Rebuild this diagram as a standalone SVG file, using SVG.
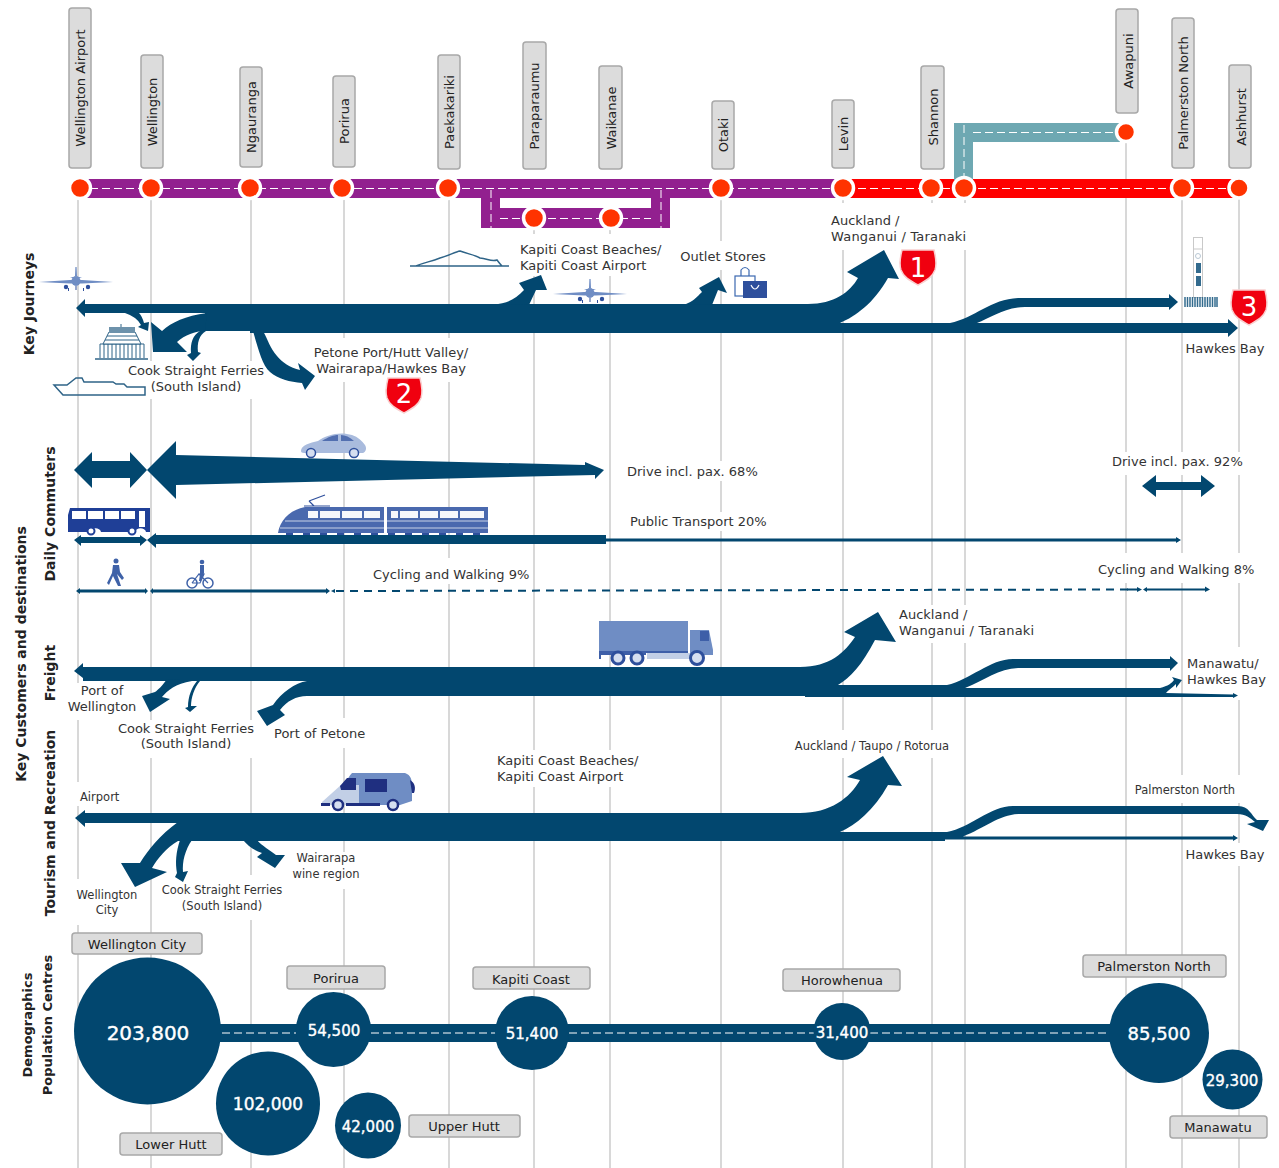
<svg xmlns="http://www.w3.org/2000/svg" xmlns:xlink="http://www.w3.org/1999/xlink" width="1279" height="1168" viewBox="0 0 1279 1168">
<style>
text{font-family:"DejaVu Sans","Liberation Sans",sans-serif;font-size:13px;fill:#333}
.s{font-size:11.5px}
.m{text-anchor:middle}
.w{letter-spacing:.2px}
.h{font-weight:bold;font-size:14px;fill:#222;text-anchor:middle}
.h2{font-size:13px}
.chip{fill:#dcdcdc;stroke:#a8a8a8;stroke-width:1.5}
.ct{fill:#222;text-anchor:middle;font-size:13px}
.vl{stroke:#cfcfcf;stroke-width:1.6;fill:none}
.mask{fill:#fff}
.flow{fill:#02476f}
.dash{stroke:#fff;stroke-width:1;stroke-dasharray:8 4;fill:none}
.stop{fill:#ff3300;stroke:#fff;stroke-width:3.5}
.pop{fill:#02476f}
.pt{fill:#fff;stroke:#fff;stroke-width:.4;text-anchor:middle}
.shield{fill:#f0000f;stroke:#f9cfcf;stroke-width:1.5}
.sn{fill:#fff;font-size:26px;text-anchor:middle}
.ic{fill:#6f8dc4}
.id{fill:#2e4f9c}
.il{fill:#a9bbdd}
.io{fill:none;stroke:#2f6488;stroke-width:1.5}
</style>
<defs>
<g id="plane">
<path class="ic" d="M-37,0 L-6,-2 L6,-2 L37,0 L6,1.5 L-6,1.5 Z"/>
<path class="ic" d="M-0.6,-15 L0.6,-15 L1,-6 L-1,-6 Z M-6,-5 L6,-5 L2,-3.5 L-2,-3.5Z"/>
<ellipse class="ic" cx="0" cy="-1" rx="4.5" ry="5"/>
<circle class="id" cx="-10" cy="5" r="2.2"/><circle class="id" cx="12" cy="5" r="2.2"/>
<path class="id" d="M-0.5,4h1v4h-1z M-8,6h1v3h-1z M7,6h1v3h-1z"/>
</g>
<path id="shieldp" d="M2,0 H34 C36,8 37,14 35,20 C32,28 25,31 18,35 C11,31 4,28 1,20 C-1,14 0,8 2,0Z"/>
</defs>

<g id="guide-lines">
<path class="vl" d="M78,198V1168M151,198V1168M251,198V1168M344,198V1168M449,198V1168M534,228V1168M610,228V1168M721,198V1168M843,198V1168M932,198V1168M965,198V1168M1126,132V1168M1182,198V1168M1239,198V1168"/>
<g class="mask">
<rect x="828" y="203" width="142" height="47"/>
<rect x="518" y="234" width="150" height="42"/>
<rect x="678" y="241" width="90" height="29"/>
<rect x="128" y="361" width="140" height="38"/>
<rect x="309" y="338" width="164" height="44"/>
<rect x="622" y="461" width="138" height="20"/>
<rect x="626" y="512" width="146" height="19"/>
<rect x="368" y="558" width="165" height="26"/>
<rect x="1108" y="452" width="136" height="23"/>
<rect x="1095" y="553" width="160" height="30"/>
<rect x="895" y="605" width="143" height="38"/>
<rect x="1185" y="647" width="82" height="53"/>
<rect x="66" y="683" width="72" height="37"/>
<rect x="115" y="720" width="143" height="38"/>
<rect x="272" y="718" width="96" height="30"/>
<rect x="76" y="782" width="44" height="24"/>
<rect x="794" y="730" width="156" height="28"/>
<rect x="495" y="750" width="146" height="37"/>
<rect x="1133" y="775" width="108" height="28"/>
<rect x="1185" y="843" width="80" height="23"/>
<rect x="70" y="879" width="70" height="46"/>
<rect x="163" y="875" width="118" height="45"/>
<rect x="290" y="852" width="72" height="37"/>
</g>
</g>

<g id="route-network">
<path fill="#92208f" d="M85,179H843V198H670V228H481V198H85Z"/>
<rect x="500" y="198" width="151" height="10" fill="#fff"/>
<rect x="843" y="179" width="392" height="19" fill="#ff0000"/>
<path fill="#6ea8b2" d="M954,180V123H1120V142H973V180Z"/>
<path class="dash" d="M90,188.500H1235M491,190V228M661,190V228M500,218.500H651M964,125V178M973,132.500H1118"/>
</g>

<g id="connectors">
<g id="journeys-flows">
<path class="flow" d="M76,308L85,299V304H808C834,304 850,292 858,278L847,272L884,250L899,279L888,278C874,303 856,316 840,323H950C975,318 992,298 1020,298H1169V294L1178,302L1169,310V307H1025C1005,307 990,318 977,323H1228V319L1238,328L1228,337V333H250V331H205V313H300V313H85V317Z"/>
<path class="flow" d="M207,313C185,316 172,322 162,331L151,322L153,352H187L177,342C185,335 195,331 205,331Z"/>
<path class="flow" d="M125,313H139Q142,316 144,323L149,322L148,331L138,327L141,325Q137,317 125,313Z"/>
<path class="flow" d="M206,331C199,335 197,343 198,352L201,353L193,361L187,355L191,353C190,343 193,335 200,331Z"/>
<path class="flow" d="M253,331C258,348 262,365 270,372C278,379 290,382 302,383L305,390L315,376L298,363L300,370C290,368 282,362 277,356C270,348 268,340 263,331Z"/>
<path class="flow" d="M494,304C505,304 515,300 524,290L519,283L541,275L547,290L536,290L529,305Z"/>
<path class="flow" d="M686,304C692,302 697,297 702,292L699,288L719,277L727,293L718,290L712,305Z"/>
</g>
<g id="commuter-flows">
<path class="flow" d="M74,470L92,452V461H130V452L147,470L130,488V478H92V488Z"/>
<path class="flow" d="M147,470L176,441V455L585,465V462L604,470L595,479V475L176,485V499Z"/>
<path class="flow" d="M74,540L81,535V537H140V535L147,540L140,546V543H81V546Z"/>
<path class="flow" d="M147,540L156,533V535H606V544H156V548Z"/>
<path class="flow" d="M606,538.500H1176V537L1181,540L1176,543V541.500H606Z"/>
<path class="flow" d="M1142,486L1156,475V482H1201V475L1215,486L1201,497V490H1156V497Z"/>
<path class="flow" d="M76,591L80,588V589.500H145V588L148,591L145,594V592.500H80V594Z"/>
<path class="flow" d="M150,591L153,588V589.500H326V588L330,591L326,594V592.500H153V594Z"/>
<path class="flow" d="M331,591L335,589V593Z"/>
<path d="M336,591L1130,589.500" fill="none" stroke="#02476f" stroke-width="2" stroke-dasharray="8 6"/>
<path class="flow" d="M1127,588.500H1137V587L1142,589.500L1137,592V590.500H1127Z"/>
<path class="flow" d="M1143,589.500L1147,587V588.500H1205V586.500L1210,589.500L1205,592V590.500H1147V592Z"/>
</g>
<g id="freight-flows">
<path class="flow" d="M74,671L83,663V667H800C830,667 845,652 855,637L844,632L878,612L896,642L875,640C862,665 850,678 838,685H947C970,680 990,659 1013,659H1170V656L1178,663L1170,671V668H1020C1000,668 985,680 965,688H1160C1168,686 1172,683 1174,680L1172,677L1182,680L1176,688L1176,684C1172,688 1168,690 1166,693L1233,694.500V693L1238,695.500L1233,698V697H805V696H307V681H83V678Z"/>
<path class="flow" d="M167,679C162,686 158,690 155,692L142,696L150,712L170,699L162,697C168,690 175,684 192,681Z"/>
<path class="flow" d="M200,681C194,688 191,698 191,706L197,706L190,712L185,708L188,707C188,696 192,687 197,681Z"/>
<path class="flow" d="M307,681C295,683 282,692 273,705L257,711L267,726L285,715L280,710C287,701 296,696 307,696Z"/>
</g>
<g id="tourism-flows">
<path class="flow" d="M75,818L85,810V813H800C830,813 850,798 860,780L847,777L883,756L902,786L888,785C874,810 856,825 840,832H947C970,828 990,806 1013,806H1238C1249,806 1251,815 1257,820L1269,820L1263,831L1247,824L1255,822C1250,818 1246,814 1237,814H1020C1000,814 985,828 963,836.500H1233V835L1238,838L1233,841V839.500H945V841H178V823H85V827Z"/>
<path class="flow" d="M178,822C160,835 148,850 140,863L121,863L135,887L167,872L152,868C158,858 166,848 178,841Z"/>
<path class="flow" d="M180,840C176,852 175,863 177,873L175,877L183,882L188,871L183,872C182,862 185,850 192,840Z"/>
<path class="flow" d="M243,840C248,846 255,851 262,853L257,857L275,868L285,855L276,855C270,850 262,846 257,840Z"/>
</g>
<g id="population-band">
<rect class="flow" x="148" y="1024" width="1011" height="18"/>
<path class="dash" d="M222,1033H296M371,1033H496M569,1033H814M870,1033H1109"/>
</g>
</g>

<g id="label-wellington-airport"><rect class="chip" x="69" y="8" width="22" height="160" rx="3"/><text class="ct" transform="translate(85,88) rotate(-90)">Wellington Airport</text></g>
<g id="label-wellington"><rect class="chip" x="141" y="55" width="22" height="113" rx="3"/><text class="ct" transform="translate(157,112) rotate(-90)">Wellington</text></g>
<g id="label-ngauranga"><rect class="chip" x="240" y="67" width="22" height="100" rx="3"/><text class="ct" transform="translate(256,117) rotate(-90)">Ngauranga</text></g>
<g id="label-porirua"><rect class="chip" x="333" y="76" width="22" height="91" rx="3"/><text class="ct" transform="translate(349,121) rotate(-90)">Porirua</text></g>
<g id="label-paekakariki"><rect class="chip" x="438" y="55" width="22" height="114" rx="3"/><text class="ct" transform="translate(454,112) rotate(-90)">Paekakariki</text></g>
<g id="label-paraparaumu"><rect class="chip" x="523" y="42" width="23" height="127" rx="3"/><text class="ct" transform="translate(539,106) rotate(-90)">Paraparaumu</text></g>
<g id="label-waikanae"><rect class="chip" x="599" y="66" width="23" height="103" rx="3"/><text class="ct" transform="translate(616,118) rotate(-90)">Waikanae</text></g>
<g id="label-otaki"><rect class="chip" x="712" y="101" width="22" height="68" rx="3"/><text class="ct" transform="translate(728,135) rotate(-90)">Otaki</text></g>
<g id="label-levin"><rect class="chip" x="832" y="100" width="22" height="68" rx="3"/><text class="ct" transform="translate(848,134) rotate(-90)">Levin</text></g>
<g id="label-shannon"><rect class="chip" x="921" y="66" width="23" height="103" rx="3"/><text class="ct" transform="translate(938,117) rotate(-90)">Shannon</text></g>
<g id="label-awapuni"><rect class="chip" x="1116" y="9" width="22" height="104" rx="3"/><text class="ct" transform="translate(1133,61) rotate(-90)">Awapuni</text></g>
<g id="label-palmerston"><rect class="chip" x="1172" y="18" width="22" height="150" rx="3"/><text class="ct" transform="translate(1188,93) rotate(-90)">Palmerston North</text></g>
<g id="label-ashhurst"><rect class="chip" x="1229" y="65" width="22" height="103" rx="3"/><text class="ct" transform="translate(1246,117) rotate(-90)">Ashhurst</text></g>

<g id="stops">
<circle class="stop" cx="80" cy="188" r="10.500"/><circle class="stop" cx="151" cy="188" r="10.500"/><circle class="stop" cx="250" cy="188" r="10.500"/><circle class="stop" cx="342" cy="188" r="10.500"/><circle class="stop" cx="448" cy="188" r="10.500"/><circle class="stop" cx="534" cy="218" r="10.500"/><circle class="stop" cx="611" cy="218" r="10.500"/><circle class="stop" cx="721" cy="188" r="10.500"/><circle class="stop" cx="843" cy="188" r="10.500"/><circle class="stop" cx="931" cy="188" r="10.500"/><circle class="stop" cx="964" cy="188" r="10.500"/><circle class="stop" cx="1126" cy="132" r="9.500"/><circle class="stop" cx="1182" cy="188" r="10.500"/><circle class="stop" cx="1239" cy="188" r="10"/>
</g>

<g id="section-titles">
<text class="h" transform="translate(34,304) rotate(-90)">Key Journeys</text>
<text class="h" transform="translate(55,514) rotate(-90)">Daily Commuters</text>
<text class="h" transform="translate(26,654) rotate(-90)">Key Customers and destinations</text>
<text class="h" transform="translate(55,673) rotate(-90)">Freight</text>
<text class="h" transform="translate(55,823) rotate(-90)">Tourism and Recreation</text>
<text class="h h2" transform="translate(32,1025) rotate(-90)">Demographics</text>
<text class="h h2" transform="translate(52,1025) rotate(-90)">Population Centres</text>
</g>

<g id="flow-labels">
<text x="831" y="225">Auckland /</text><text class="w" x="831" y="241">Wanganui / Taranaki</text>
<text x="520" y="254">Kapiti Coast Beaches/</text><text x="520" y="270">Kapiti Coast Airport</text>
<text class="m" x="723" y="261">Outlet Stores</text>
<text class="m" x="391" y="357">Petone Port/Hutt Valley/</text><text class="m" x="391" y="373">Wairarapa/Hawkes Bay</text>
<text class="m" x="196" y="375">Cook Straight Ferries</text><text class="m" x="196" y="391">(South Island)</text>
<text class="m" x="1225" y="353">Hawkes Bay</text>
<text x="627" y="476">Drive incl. pax. 68%</text>
<text x="630" y="526">Public Transport 20%</text>
<text x="373" y="579">Cycling and Walking 9%</text>
<text x="1112" y="466">Drive incl. pax. 92%</text>
<text x="1098" y="574">Cycling and Walking 8%</text>
<text x="899" y="619">Auckland /</text><text class="w" x="899" y="635">Wanganui / Taranaki</text>
<text x="1187" y="668">Manawatu/</text><text x="1187" y="684">Hawkes Bay</text>
<text class="m" x="102" y="695">Port of</text><text class="m" x="102" y="711">Wellington</text>
<text class="m" x="186" y="733">Cook Straight Ferries</text><text class="m" x="186" y="748">(South Island)</text>
<text x="274" y="738">Port of Petone</text>
<text class="s m" x="872" y="750">Auckland / Taupo / Rotorua</text>
<text x="497" y="765">Kapiti Coast Beaches/</text><text x="497" y="781">Kapiti Coast Airport</text>
<text class="s" x="80" y="801">Airport</text>
<text class="s m" x="1185" y="794">Palmerston North</text>
<text class="m" x="1225" y="859">Hawkes Bay</text>
<text class="s m" x="326" y="862">Wairarapa</text><text class="s m" x="326" y="878">wine region</text>
<text class="s m" x="107" y="899">Wellington</text><text class="s m" x="107" y="914">City</text>
<text class="s m" x="222" y="894">Cook Straight Ferries</text><text class="s m" x="222" y="910">(South Island)</text>
</g>

<g id="badges">
<g id="badge-1" transform="translate(900,250)"><use href="#shieldp" class="shield"/><text class="sn" x="18" y="27">1</text></g>
<g id="badge-2" transform="translate(386,378)"><use href="#shieldp" class="shield"/><text class="sn" x="18" y="25">2</text></g>
<g id="badge-3" transform="translate(1231,290)"><use href="#shieldp" class="shield"/><text class="sn" x="18" y="26">3</text></g>
</g>

<g id="icons">
<use href="#plane" x="76" y="282"/>
<use href="#plane" x="590" y="294"/>
<g id="icon-beehive">
<path class="io" d="M95,359H148" stroke-width="1"/>
<path d="M100,358V344H144V358M104,344V358M108,344V358M112,344V358M116,344V358M120,344V358M124,344V358M128,344V358M132,344V358M136,344V358M140,344V358" fill="none" stroke="#2f6488" stroke-width="1"/>
<path d="M103,344L109,332H135L141,344Z" fill="#fff" stroke="#2f6488" stroke-width="1"/>
<path d="M105,340H139M107,336H137" stroke="#2f6488" stroke-width="1"/>
<rect x="109" y="327" width="26" height="6" fill="#6d92ab"/><path d="M121,324V327" stroke="#2f6488"/>
</g>
<path id="icon-ferry" class="io" d="M54,385H67L76,378H82L84,382H113L116,384H124L127,387H145V395H63Z"/>
<path id="icon-mountain" class="io" d="M410,266H509M416,266C425,262 430,262 440,258C448,256 455,252 460,251C468,254 475,255 480,258C488,259 492,262 497,260C500,264 500,264 502,266" stroke-width="1"/>
<g id="icon-bag">
<rect x="735" y="276" width="20" height="20" fill="none" stroke="#3b68b0" stroke-width="1.200"/>
<path d="M741,276V270Q745,265 749,270V276" fill="none" stroke="#3b68b0" stroke-width="1.200"/>
<rect x="743" y="281" width="24" height="17" fill="#2e4f9c"/>
<path d="M751,285Q755,293 759,285" fill="none" stroke="#fff" stroke-width="1.200"/>
</g>
<g id="icon-tower">
<rect x="1193.500" y="237.500" width="9" height="60" fill="#fff" stroke="#c9c9c9"/>
<path d="M1193.500,249H1202.500" stroke="#c9c9c9"/>
<rect x="1196" y="263" width="5" height="10" fill="#336b8e"/>
<rect x="1196" y="276" width="5" height="10" fill="#336b8e"/>
<circle cx="1198" cy="256" r="2.500" fill="#fff" stroke="#b9c8d4"/>
<path d="M1185,297V307M1187.500,297V307M1190,297V307M1192.500,297V307M1195,297V307M1197.500,297V307M1200,297V307M1202.500,297V307M1205,297V307M1207.500,297V307M1210,297V307M1212.500,297V307M1215,297V307M1217,297V307" stroke="#336b8e" stroke-width="1.500"/>
</g>
<g id="icon-car">
<path class="il" d="M301,451C301,445 310,443 318,441C326,435 340,431 352,435C358,437 362,441 365,445C367,448 366,452 363,453H304C302,453 301,452 301,451Z"/>
<path class="id" opacity=".7" d="M322,441C328,437 334,435 338,435V441ZM341,435C345,435 350,437 354,441H341Z"/>
<circle cx="311" cy="453" r="4.500" fill="#d5def0" stroke="#2e4f9c" stroke-width="1.500"/>
<circle cx="354" cy="453" r="4.500" fill="#d5def0" stroke="#2e4f9c" stroke-width="1.500"/>
</g>
<g id="icon-bus">
<path fill="#1f3f97" d="M70,508H150V532H146C145,527 136,527 135,532H101C100,527 91,527 90,532H68V515Z"/>
<path fill="#fff" d="M72,511H86V519H72ZM88,511H103V519H88ZM105,511H119V519H105ZM121,511H135V519H121ZM139,511H145V527H139Z"/>
<circle cx="91" cy="531" r="3.500" fill="#fff" stroke="#1f3f97" stroke-width="2"/>
<circle cx="132" cy="531" r="3.500" fill="#fff" stroke="#1f3f97" stroke-width="2"/>
</g>
<g id="icon-train">
<path fill="#4a69ae" d="M278,533C280,520 290,510 305,507H384V533ZM387,507H488V533H387Z"/>
<path fill="#fff" d="M308,511H318V518H308ZM320,511H340V518H320ZM342,511H362V518H342ZM364,511H380V518H364ZM391,511H398V518H391ZM400,511H418V518H400ZM420,511H438V518H420ZM440,511H458V518H440ZM460,511H484V518H460Z" opacity=".95"/>
<path d="M285,521H384M387,521H488M280,528H384M387,528H488" stroke="#fff" stroke-width="1" fill="none" opacity=".7"/>
<path d="M309,501L325,495M309,501L314,506M304,506H330" stroke="#2e4f9c" stroke-width="1.200" fill="none"/>
<path d="M286,534H488" stroke="#2e4f9c" stroke-width="2" stroke-dasharray="7 10"/>
</g>
<g id="icon-walker" fill="#3f62a8">
<circle cx="116" cy="561" r="2.500"/>
<path d="M113,565H119L120,572L124,578L122,580L117,574L121,586H118L113,576L109,585L107,583L112,573Z"/>
</g>
<g id="icon-cyclist">
<circle cx="192" cy="583" r="5" fill="none" stroke="#3f62a8" stroke-width="1.500"/>
<circle cx="208" cy="583" r="5" fill="none" stroke="#3f62a8" stroke-width="1.500"/>
<path d="M192,583L199,574L208,583M199,574H204L200,583H192" fill="none" stroke="#3f62a8" stroke-width="1.200"/>
<circle cx="202" cy="562" r="2.300" fill="#3f62a8"/>
<path d="M200,565H204L204,573L201,581H199L200,574Z" fill="#3f62a8"/>
</g>
<g id="icon-truck">
<rect x="599" y="621" width="89" height="31" fill="#6f8dc4"/>
<path fill="#3e5fa8" d="M599,651H688V653H646V655H601V659H599Z"/>
<rect x="647" y="653" width="43" height="6" fill="#c2cfe6"/>
<path fill="#6f8dc4" d="M690,630H709L713,650V655H690Z"/>
<rect x="700" y="631" width="9" height="10" fill="#3e5fa8"/>
<circle cx="618" cy="658" r="6" fill="#d5def0" stroke="#2e4f9c" stroke-width="3"/>
<circle cx="637" cy="658" r="6" fill="#d5def0" stroke="#2e4f9c" stroke-width="3"/>
<circle cx="697" cy="658" r="6.500" fill="#d5def0" stroke="#2e4f9c" stroke-width="3"/>
</g>
<g id="icon-camper">
<path fill="#6f8dc4" d="M342,788C347,780 350,775 352,773H405C411,775 412,780 412,786V801L400,805H352V800Z"/>
<path fill="#c2cfe6" d="M322,802L341,785H359V805H322Z"/>
<path fill="#1f2f80" d="M340,786L347,778H356V790H341ZM365,779H387V792H365ZM410,780C415,783 416,788 414,793H412Z"/>
<path fill="#1f2f80" d="M321,803H330V806H321ZM346,803H380V806H346Z"/>
<circle cx="338" cy="805" r="5" fill="#d5def0" stroke="#1f2f80" stroke-width="2.500"/>
<circle cx="393" cy="805" r="5" fill="#d5def0" stroke="#1f2f80" stroke-width="2.500"/>
</g>
</g>

<g id="demographics">
<g id="pop-wellington-city"><rect class="chip" x="72" y="933" width="130" height="21" rx="3"/><text class="ct" x="137" y="949">Wellington City</text><circle class="pop" cx="147.500" cy="1031" r="73.500"/><text class="pt" x="148" y="1040" style="font-size:20px">203,800</text></g>
<g id="pop-lower-hutt"><rect class="chip" x="120" y="1133" width="102" height="22" rx="3"/><text class="ct" x="171" y="1149">Lower Hutt</text><circle class="pop" cx="268" cy="1103.500" r="52"/><text class="pt" x="268" y="1110" style="font-size:17px">102,000</text></g>
<g id="pop-porirua"><rect class="chip" x="287" y="966" width="98" height="23" rx="3"/><text class="ct" x="336" y="983">Porirua</text><circle class="pop" cx="333.500" cy="1029.500" r="37.500"/><text class="pt" x="334" y="1036" style="font-size:15px">54,500</text></g>
<g id="pop-upper-hutt"><rect class="chip" x="409" y="1115" width="111" height="22" rx="3"/><text class="ct" x="464" y="1131">Upper Hutt</text><circle class="pop" cx="368" cy="1125.500" r="33"/><text class="pt" x="368" y="1132" style="font-size:15px">42,000</text></g>
<g id="pop-kapiti"><rect class="chip" x="473" y="967" width="117" height="22" rx="3"/><text class="ct" x="531" y="984">Kapiti Coast</text><circle class="pop" cx="532" cy="1033" r="37"/><text class="pt" x="532" y="1039" style="font-size:15px">51,400</text></g>
<g id="pop-horowhenua"><rect class="chip" x="783" y="969" width="117" height="22" rx="3"/><text class="ct" x="842" y="985">Horowhenua</text><circle class="pop" cx="842" cy="1031.500" r="28.500"/><text class="pt" x="842" y="1038" style="font-size:15px">31,400</text></g>
<g id="pop-palmerston"><rect class="chip" x="1083" y="955" width="143" height="22" rx="3"/><text class="ct" x="1154" y="971">Palmerston North</text><circle class="pop" cx="1159" cy="1033" r="50"/><text class="pt" x="1159" y="1040" style="font-size:18px">85,500</text></g>
<g id="pop-manawatu"><rect class="chip" x="1170" y="1116" width="97" height="22" rx="3"/><text class="ct" x="1218" y="1132">Manawatu</text><circle class="pop" cx="1232.500" cy="1079.500" r="30"/><text class="pt" x="1232" y="1086" style="font-size:15px">29,300</text></g>
</g>
</svg>
